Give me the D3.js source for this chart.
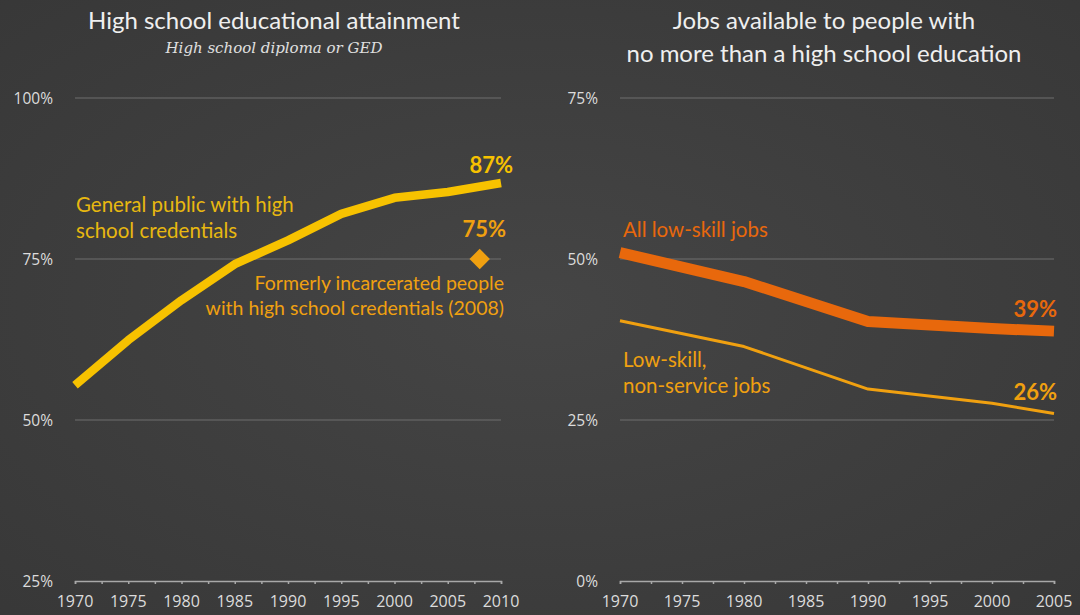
<!DOCTYPE html>
<html><head><meta charset="utf-8">
<script src="https://cdn.jsdelivr.net/npm/d3@7"></script>
<style>html,body{margin:0;padding:0;background:#3e3e3e;}svg{display:block;}</style>
</head><body>
<script>
// Left chart data
const eduYears = [1970, 1975, 1980, 1985, 1990, 1995, 2000, 2005, 2010];
const eduGeneral = [55.4, 62.4, 68.6, 74.2, 77.9, 82.0, 84.5, 85.4, 86.8];
const incarcerated = {year: 2008, value: 75};
const leftYTicks = [25, 50, 75, 100];
const leftXTicks = [1970, 1975, 1980, 1985, 1990, 1995, 2000, 2005, 2010];

// Right chart data
const jobYears = [1970, 1980, 1990, 2000, 2005];
const allLowSkill = [51.0, 46.5, 40.3, 39.2, 38.8];
const nonService = [40.4, 36.4, 29.8, 27.6, 26.0];
const rightYTicks = [0, 25, 50, 75];
const rightXTicks = [1970, 1975, 1980, 1985, 1990, 1995, 2000, 2005];

const W = 1080, H = 615;
const svg = d3.select("body").append("svg").attr("width", W).attr("height", H);
const defs = svg.append("defs");
const rg = defs.append("radialGradient").attr("id","bg").attr("cx","50%").attr("cy","50%").attr("r","75%");
rg.append("stop").attr("offset","0%").attr("stop-color","#454545");
rg.append("stop").attr("offset","100%").attr("stop-color","#373737");
svg.append("rect").attr("width",W).attr("height",H).attr("fill","url(#bg)");

const sans = "'Lato', 'Open Sans', sans-serif";
const tickFont = "'Open Sans', 'Noto Sans', sans-serif";
const YELLOW = "#f7c200", ORANGE = "#e8680c", AMBER = "#f0a010", LABELYELLOW = "#e8b810";

function panel(opts) {
  const g = svg.append("g");
  const x = d3.scaleLinear().domain(opts.xDomain).range(opts.xRange);
  const y = d3.scaleLinear().domain(opts.yDomain).range([581, 98]);
  g.selectAll(".grid").data(opts.yTicks.slice(1)).enter().append("line")
    .attr("x1", opts.xRange[0]).attr("x2", opts.xRange[1])
    .attr("y1", d => y(d)).attr("y2", d => y(d))
    .attr("stroke", "#6e6e6e").attr("stroke-width", 1);
  g.selectAll(".yl").data(opts.yTicks).enter().append("text")
    .attr("x", opts.yLabelX).attr("y", d => y(d) + 6)
    .attr("text-anchor", "end").attr("fill", "#dcdcdc")
    .style("font-family", tickFont).style("font-size", "15.5px")
    .text(d => d + "%");
  const minor = d3.range(opts.xDomain[0], opts.xDomain[1] + 0.1, 2.5);
  const ax = d3.axisBottom(x).tickValues(minor).tickSize(3).tickFormat("");
  const axG = g.append("g").attr("transform", `translate(0,${y(opts.yDomain[0])})`).call(ax);
  axG.select(".domain").attr("stroke", "#a8a8a8").attr("stroke-width", 1.5);
  axG.selectAll(".tick line").attr("stroke", "#a8a8a8").attr("stroke-width", 1.5);
  g.selectAll(".xl").data(opts.xTicks).enter().append("text")
    .attr("x", d => x(d)).attr("y", 607).attr("text-anchor", "middle")
    .attr("fill", "#dcdcdc").style("font-family", tickFont).style("font-size", "16px")
    .text(d => d);
  return {g, x, y};
}

const L = panel({xDomain:[1970,2010], xRange:[75,501], yDomain:[25,100], yTicks:leftYTicks, xTicks:leftXTicks, yLabelX:53});
const R = panel({xDomain:[1970,2005], xRange:[620,1054], yDomain:[0,75], yTicks:rightYTicks, xTicks:rightXTicks, yLabelX:598});

function title(x, y, t, size) {
  svg.append("text").attr("x", x).attr("y", y).attr("text-anchor","middle")
    .attr("fill","#efefef").style("font-family",sans).style("font-size", size + "px").text(t);
}
title(274, 29, "High school educational attainment", 24);
title(824, 29, "Jobs available to people with", 24);
title(824, 62, "no more than a high school education", 24);
svg.append("text").attr("x", 274).attr("y", 53).attr("text-anchor","middle")
  .attr("fill","#e0e0e0").style("font-family","'DejaVu Serif', 'Liberation Serif', serif").style("font-style","italic").style("font-size","15px").text("High school diploma or GED");

const lineL = d3.line().x((d,i) => L.x(eduYears[i])).y(d => L.y(d));
L.g.append("path").datum(eduGeneral).attr("d", lineL).attr("fill","none")
  .attr("stroke", YELLOW).attr("stroke-width", 8.5).attr("stroke-linejoin","round");
const diamondType = d3.symbolDiamond2 || d3.symbolSquare;
L.g.append("path").attr("d", d3.symbol().type(diamondType).size(265))
  .attr("transform", `translate(${L.x(incarcerated.year)},${L.y(incarcerated.value)}) rotate(${d3.symbolDiamond2 ? 0 : 45})`)
  .attr("fill", AMBER);

function label(g, x, y, text, color, opts={}) {
  return g.append("text").attr("x", x).attr("y", y).attr("fill", color)
    .attr("text-anchor", opts.anchor || "start")
    .style("font-family", sans).style("font-size", (opts.size||20.5) + "px")
    .style("font-weight", opts.bold ? "bold" : "normal").text(text);
}
label(L.g, 513, 173, "87%", YELLOW, {anchor:"end", bold:true, size:22});
label(L.g, 506, 237, "75%", AMBER, {anchor:"end", bold:true, size:22});
label(L.g, 76, 212, "General public with high", LABELYELLOW);
label(L.g, 76, 238, "school credentials", LABELYELLOW);
label(L.g, 504, 290, "Formerly incarcerated people", AMBER, {anchor:"end", size:19.5});
label(L.g, 504, 315, "with high school credentials (2008)", AMBER, {anchor:"end", size:19.5});

const lineR = d3.line().x((d,i) => R.x(jobYears[i])).y(d => R.y(d));
R.g.append("path").datum(allLowSkill).attr("d", lineR).attr("fill","none")
  .attr("stroke", ORANGE).attr("stroke-width", 11).attr("stroke-linejoin","round");
R.g.append("path").datum(nonService).attr("d", lineR).attr("fill","none")
  .attr("stroke", AMBER).attr("stroke-width", 3).attr("stroke-linejoin","round");
label(R.g, 623, 237, "All low-skill jobs", ORANGE);
label(R.g, 1057, 317, "39%", ORANGE, {anchor:"end", bold:true, size:22});
label(R.g, 623, 367, "Low-skill,", AMBER);
label(R.g, 623, 393, "non-service jobs", AMBER);
label(R.g, 1057, 400, "26%", AMBER, {anchor:"end", bold:true, size:22});
</script>
</body></html>
